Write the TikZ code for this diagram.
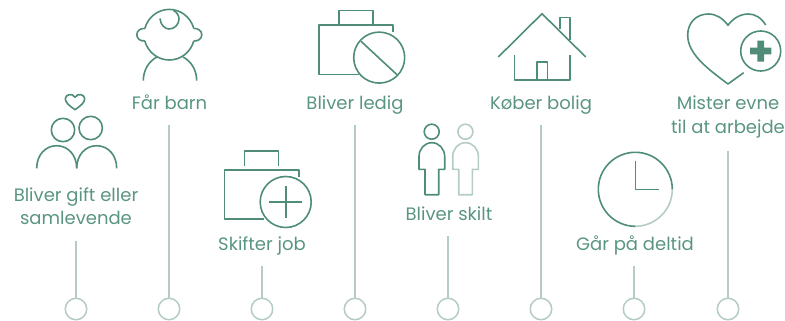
\documentclass[tikz,border=0pt]{standalone}
\usepackage{fontspec}
\setmainfont{Poppins}
\definecolor{dk}{HTML}{4F8D78}
\definecolor{lt}{HTML}{B4CCC5}
\definecolor{tx}{HTML}{5A957F}
\tikzset{
  ic/.style={draw=dk,line width=1.6pt,line join=round},
  icl/.style={draw=lt,line width=1.6pt,line join=round},
  lab/.style={text=tx,font=\fontsize{18}{23}\selectfont,align=center,inner sep=0pt,anchor=base},
  dot/.style={circle,draw=lt,line width=1.5pt,minimum size=21.5pt,inner sep=0pt,fill=white},
  conn/.style={draw=lt,line width=1.5pt}
}
\begin{document}
\begin{tikzpicture}[x=1pt,y=-1pt]
\useasboundingbox (0,0) rectangle (785,321);
% labels
\node[lab] (l1a) at (76,201.5) {Bliver gift eller};
\node[lab] (l1b) at (76,224.5) {samlevende};
\node[lab] (l2) at (169.5,110) {Får barn};
\node[lab] (l3) at (262,250.5) {Skifter job};
\node[lab] (l4) at (355,110) {Bliver ledig};
\node[lab] (l5) at (449,220.5) {Bliver skilt};
\node[lab] (l6) at (541,110) {Køber bolig};
\node[lab] (l7) at (635,250.5) {Går på deltid};
\node[lab] (l8a) at (728,110) {Mister evne};
\node[lab] (l8b) at (728,133) {til at arbejde};
% timeline
\foreach \n/\x/\t in {1/76/241,2/169/125,3/262/266,4/355/125,5/448/236,6/541/125,7/634/266,8/728/151}{
  \node[dot] (c\n) at (\x,309) {};
  \coordinate (t\n) at (\x,\t);
  \draw[conn] (t\n) -- (c\n);
}
% couple
\draw[ic] (75,109.7) .. controls (69,105.5) and (65.3,102.5) .. (65.3,98.7) .. controls (65.3,94.5) and (72.5,92.5) .. (75,97.3) .. controls (77.5,92.5) and (84.7,94.5) .. (84.7,98.7) .. controls (84.7,102.5) and (81,105.5) .. (75,109.7) -- cycle;
\draw[ic] (63,130) circle[radius=11.7];
\draw[ic] (90.7,128) circle[radius=11.7];
\draw[ic] (36.7,168.3) .. controls (36.7,155) and (45.5,145.7) .. (56.7,145.7) .. controls (67.9,145.7) and (76.7,155) .. (76.7,168.3);
\draw[ic] (76.7,168.3) .. controls (76.7,155) and (85.5,145.7) .. (96.7,145.7) .. controls (107.9,145.7) and (116.7,155) .. (116.7,168.3);
% baby
\draw[ic] (144.75,28.58) .. controls (148,17) and (158,9.4) .. (169.3,9.4) .. controls (180.6,9.4) and (190.6,17) .. (193.85,28.58);
\draw[ic] (193.85,40.82) .. controls (190.6,52.4) and (180.6,60) .. (169.3,60) .. controls (158,60) and (148,52.4) .. (144.75,40.82);
\draw[ic] (144.75,28.58) .. controls (141,28) and (136.8,30.5) .. (136.8,34.7) .. controls (136.8,39) and (141,41.5) .. (144.75,40.82);
\draw[ic] (193.85,28.58) .. controls (197.6,28) and (201.8,30.5) .. (201.8,34.7) .. controls (201.8,39) and (197.6,41.5) .. (193.85,40.82);
\draw[ic] (160,18.5) .. controls (160.5,25) and (165,29) .. (169,29) .. controls (175,29) and (179,24) .. (179,19) .. controls (179,15) and (176.5,12) .. (173.5,10.5);
\draw[ic] (143.3,80.7) .. controls (143.3,70) and (149,61) .. (157,57);
\draw[ic] (196.7,80.7) .. controls (196.7,70) and (191,61) .. (183,57);
% job plus
\draw[ic] (244.3,165.7) -- (244.3,151) -- (278.3,151) -- (278.3,165.7);
\draw[ic] (299,177) -- (299,170) -- (224.3,170) -- (224.3,218.7) -- (264,218.7);
\draw[ic] (285.7,202) circle[radius=25.5];
\draw[ic] (269,202) -- (302.3,202);
\draw[ic] (285.7,185.7) -- (285.7,218.3);
% job cross
\draw[ic] (339,25.3) -- (339,10.7) -- (373,10.7) -- (373,25.3);
\draw[ic] (393,32.5) -- (393,25.3) -- (319,25.3) -- (319,74.7) -- (358.5,74.7);
\draw[ic] (379.2,57.6) circle[radius=25.5];
\draw[ic] (361,41.3) -- (397,74.7);
% divorced
\draw[ic] (431.7,131.7) circle[radius=7.5];
\draw[ic] (419,169.3) -- (419,156.7) .. controls (419,149) and (424.5,142.7) .. (431.8,142.7) .. controls (439.2,142.7) and (444.7,149) .. (444.7,156.7) -- (444.7,169.3) -- (438.7,169.3) -- (438.7,194.7) -- (425,194.7) -- (425,169.3) -- cycle;
\draw[icl] (465.4,131.7) circle[radius=7.5];
\draw[icl] (452.7,169.3) -- (452.7,156.7) .. controls (452.7,149) and (458.2,142.7) .. (465.5,142.7) .. controls (472.9,142.7) and (478.4,149) .. (478.4,156.7) -- (478.4,169.3) -- (472.4,169.3) -- (472.4,194.7) -- (458.7,194.7) -- (458.7,169.3) -- cycle;
% house
\draw[ic] (498.3,57) -- (542,13.7) -- (585.7,57);
\draw[ic] (559.7,29.3) -- (559.7,17.7) -- (569.7,17.7) -- (569.7,40);
\draw[ic] (514.3,55) -- (514.3,80) -- (569.7,80) -- (569.7,55);
\draw[ic] (537,80) -- (537,62) -- (547.3,62) -- (547.3,80);
% clock
\draw[icl] (672.3,189.3) .. controls (672.3,209.7) and (655.7,226.3) .. (635.3,226.3);
\draw[ic] (635.3,226.3) .. controls (614.9,226.3) and (598.3,209.7) .. (598.3,189.3) .. controls (598.3,168.9) and (614.9,152.3) .. (635.3,152.3) .. controls (655.7,152.3) and (672.3,168.9) .. (672.3,189.3);
\draw[ic] (635.3,160.7) -- (635.3,189.3) -- (658.7,189.3);
% heart
\draw[ic] (765.7,25) .. controls (761,17.5) and (755,14) .. (748.3,14) .. controls (740,14) and (733,18.5) .. (728,25.3) .. controls (723,18.5) and (716.5,14) .. (708.3,14) .. controls (696,14) and (687.7,23) .. (687.7,35) .. controls (687.7,53) and (705,67) .. (728,84) -- (743.7,72.7);
\draw[ic] (760.7,51) circle[radius=20];
\fill[dk] (757.3,40.7) rectangle (764,47.7) (750,47.7) rectangle (771.3,54.3) (757.3,54.3) rectangle (764,61.7);
\end{tikzpicture}
\end{document}
